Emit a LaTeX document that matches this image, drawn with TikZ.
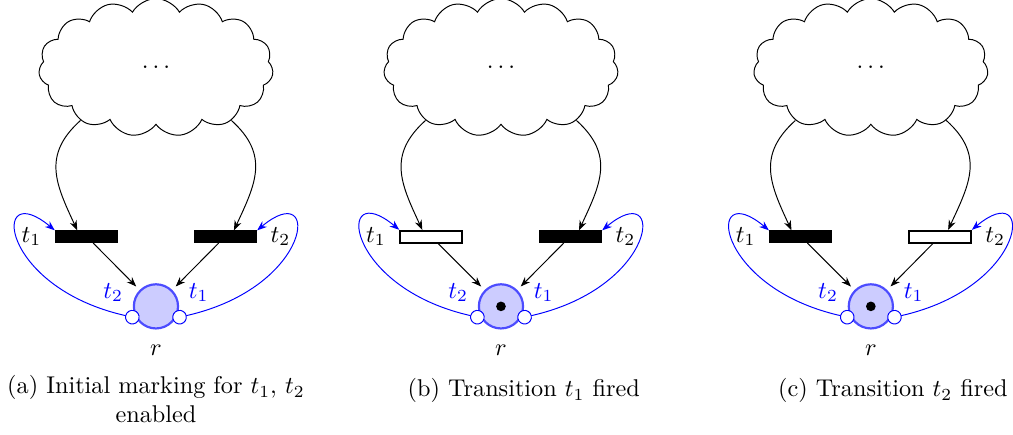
\documentclass[tikz,border=0pt]{standalone}
\usepackage{amsmath}
\usetikzlibrary{shapes.symbols,arrows.meta,positioning,calc}

\tikzset{
  >={Stealth[length=4pt]},
  place/.style={circle, draw=blue!70, fill=blue!20, line width=0.9pt, minimum size=0.64cm, inner sep=0pt},
  trans/.style={rectangle, draw, fill=black, minimum width=0.9cm, minimum height=0.17cm, inner sep=0pt},
  opentrans/.style={trans, fill=white, line width=0.8pt},
  token/.style={circle, fill=black, minimum size=0.14cm, inner sep=0pt},
  env/.style={cloud, draw, fill=white, cloud puffs=15, cloud puff arc=120, minimum width=3.4cm, minimum height=2cm, inner sep=0pt},
  inhib/.style={blue, shorten <=-1.5pt, {Circle[fill=white, length=6pt]}-{Stealth[length=4pt]}},
  arclabel/.style={blue},
}

\begin{document}
\begin{tikzpicture}
        \useasboundingbox (0,0) rectangle (14.68,6.30);

        % (a) initial marking
        \node[env] (ca) at (2.26,5.32) {$\ldots$};
        \node[trans] (t1a) at (1.25,2.87) {};
        \node[trans] (t2a) at (3.27,2.87) {};
        \node[place, label={[label distance=1mm]below:$r$}] (ra) at (2.26,1.86) {};
        \node[left=0.7mm of t1a] (l1a) {$t_1$};
        \node[right=0.7mm of t2a] (l2a) {$t_2$};
        \node[arclabel] (w2a) at ($(ra)+(-0.62,0.2)$) {$t_2$};
        \node[arclabel] (w1a) at ($(ra)+(0.62,0.2)$) {$t_1$};

        \draw[->] (ca.215) to[out=222, in=115, looseness=1.2] ([xshift=-1.3mm]t1a.north);
        \draw[->] (ca.325) to[out=-42, in=65, looseness=1.2] ([xshift=1.2mm]t2a.north);
        \draw[->, shorten >=2pt] ([xshift=1mm]t1a.south) -- (ra);
        \draw[->, shorten >=2pt] ([xshift=-1mm]t2a.south) -- (ra);
        \draw[inhib] (ra.210) .. controls +(-2.0,0.45) and +(-0.93,0.78) .. (t1a.north west);
        \draw[inhib] (ra.330) .. controls +(2.0,0.45) and +(0.93,0.78) .. (t2a.north east);

        \node[anchor=base, align=center] (capa) at (2.26,0.17) {(a) Initial marking for $t_1$, $t_2$\\enabled};

        % (b) t1 fired
        \node[env] (cb) at (7.26,5.32) {$\ldots$};
        \node[opentrans] (t1b) at (6.25,2.87) {};
        \node[trans] (t2b) at (8.27,2.87) {};
        \node[place, label={[label distance=1mm]below:$r$}] (rb) at (7.26,1.86) {};
        \node[token] (kb) at (rb) {};
        \node[left=0.7mm of t1b] (l1b) {$t_1$};
        \node[right=0.7mm of t2b] (l2b) {$t_2$};
        \node[arclabel] (w2b) at ($(rb)+(-0.62,0.2)$) {$t_2$};
        \node[arclabel] (w1b) at ($(rb)+(0.62,0.2)$) {$t_1$};

        \draw[->] (cb.215) to[out=222, in=115, looseness=1.2] ([xshift=-1.3mm]t1b.north);
        \draw[->] (cb.325) to[out=-42, in=65, looseness=1.2] ([xshift=1.2mm]t2b.north);
        \draw[->, shorten >=2pt] ([xshift=1mm]t1b.south) -- (rb);
        \draw[->, shorten >=2pt] ([xshift=-1mm]t2b.south) -- (rb);
        \draw[inhib] (rb.210) .. controls +(-2.0,0.45) and +(-0.93,0.78) .. (t1b.north west);
        \draw[inhib] (rb.330) .. controls +(2.0,0.45) and +(0.93,0.78) .. (t2b.north east);

        \node[anchor=base] (capb) at (7.59,0.55) {(b) Transition $t_1$ fired};

        % (c) t2 fired
        \node[env] (cc) at (12.62,5.32) {$\ldots$};
        \node[trans] (t1c) at (11.60,2.87) {};
        \node[opentrans] (t2c) at (13.62,2.87) {};
        \node[place, label={[label distance=1mm]below:$r$}] (rc) at (12.62,1.86) {};
        \node[token] (kc) at (rc) {};
        \node[left=0.7mm of t1c] (l1c) {$t_1$};
        \node[right=0.7mm of t2c] (l2c) {$t_2$};
        \node[arclabel] (w2c) at ($(rc)+(-0.62,0.2)$) {$t_2$};
        \node[arclabel] (w1c) at ($(rc)+(0.62,0.2)$) {$t_1$};

        \draw[->] (cc.215) to[out=222, in=115, looseness=1.2] ([xshift=-1.3mm]t1c.north);
        \draw[->] (cc.325) to[out=-42, in=65, looseness=1.2] ([xshift=1.2mm]t2c.north);
        \draw[->, shorten >=2pt] ([xshift=1mm]t1c.south) -- (rc);
        \draw[->, shorten >=2pt] ([xshift=-1mm]t2c.south) -- (rc);
        \draw[inhib] (rc.210) .. controls +(-2.0,0.45) and +(-0.93,0.78) .. (t1c.north west);
        \draw[inhib] (rc.330) .. controls +(2.0,0.45) and +(0.93,0.78) .. (t2c.north east);

        \node[anchor=base] (capc) at (12.94,0.55) {(c) Transition $t_2$ fired};

\end{tikzpicture}
\end{document}
